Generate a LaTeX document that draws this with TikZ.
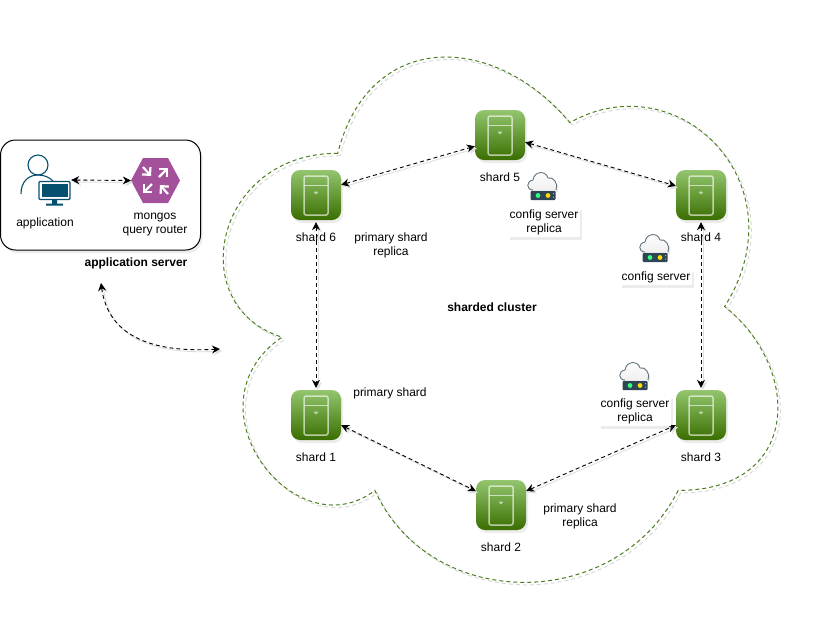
\documentclass[tikz,border=0pt]{standalone}
\usepackage{fontspec}
\setmainfont{Liberation Sans}
\usetikzlibrary{arrows.meta,shadows,calc}
\definecolor{cloudgreen}{HTML}{4D7F20}
\definecolor{shtop}{HTML}{93C66E}
\definecolor{shbot}{HTML}{3A6E00}
\definecolor{appblue}{HTML}{05506F}
\definecolor{hexpurple}{HTML}{A4519C}
\definecolor{iconline}{HTML}{62747F}
\definecolor{bardark}{HTML}{2F4454}
\tikzset{
  x=1pt,y=-1pt,
  lbl/.style={font=\fontsize{12}{14}\selectfont,align=center,inner sep=0pt,text=black},
  blbl/.style={lbl,font=\fontsize{12}{14}\selectfont\bfseries},
  softshadow/.style={drop shadow={shadow xshift=2pt,shadow yshift=-3pt,opacity=.15,fill=gray}},
  shardbox/.style={minimum width=50pt,minimum height=50pt,inner sep=0pt,rounded corners=9pt,
     top color=shtop,bottom color=shbot,softshadow},
  whitebox/.style={lbl,fill=white,inner sep=2pt,softshadow},
  glyph/.style={draw=white,draw opacity=.62,line width=1.5pt,rounded corners=2pt},
  link/.style={black,line width=.9pt,dash pattern=on 4pt off 3pt,{Stealth[length=8pt,width=8pt]}-{Stealth[length=8pt,width=8pt]},
     preaction={draw=gray!25,line width=.9pt,transform canvas={shift={(2pt,-2pt)}}}},
  cloudline/.style={line width=1pt,dash pattern=on 4pt off 3pt},
  hexarrow/.style={draw=white,line width=2.2pt,-{Straight Barb[length=5.5pt,width=11pt,line width=2.2pt]}},
}
\newcommand{\shardnode}[3]{%
  \node[shardbox] (#1) at (#2,#3) {};
  \draw[glyph] (#2-12,#3-19) rectangle (#2+12,#3+20);
  \draw[draw=white,draw opacity=.62,line width=1.2pt] (#2-12,#3-9.5) -- (#2+12,#3-9.5);
  \draw[draw=white,draw opacity=.62,line width=.8pt] (#2-1.8,#3-3) arc[start angle=180,end angle=0,radius=1.8] (#2,#3-4.5) -- (#2,#3-1.5);
  \node[lbl] (#1l) at (#2,#3+42) {shard \ShardNo};
}
\newcommand{\servericon}[2]{%
  \begin{scope}[shift={(#1,#2)}]
   \fill[gray!18,shift={(1.5,2)}] (-10,5) .. controls (-17,5) and (-17,-4) .. (-10,-5) .. controls (-9,-14) and (3,-15) .. (5,-7) .. controls (10,-9) and (16,-1) .. (13,5) -- cycle;
   \draw[iconline,line width=.9pt,top color=white,bottom color=gray!12] (-10,5) .. controls (-17,5) and (-17,-4) .. (-10,-5) .. controls (-9,-14) and (3,-15) .. (5,-7) .. controls (10,-9) and (16,-1) .. (13,5);
   \fill[bardark,rounded corners=1pt] (-12.5,6) rectangle (12.5,15);
   \fill[green!65!cyan!80!white] (-5,10.5) circle[radius=2.4];
   \fill[yellow!80!orange] (5,10.5) circle[radius=2.4];
   \fill[gray!60] (10.2,8) rectangle (11,9.2) (10.2,11.5) rectangle (11,12.7);
  \end{scope}
}
\begin{document}
\begin{tikzpicture}
\useasboundingbox (0,0) rectangle (816,625);
\fill[white] (0,0) rectangle (816,625);
% cloud: box origin (183,0), width 619, height 613
\begin{scope}[shift={(183,0)},x=6.19pt,y=-6.13pt]
 \def\cloudpath{(25,25) .. controls (5,25) and (0,50) .. (16,55) .. controls (0,66) and (18,90) .. (31,80) .. controls (40,100) and (70,100) .. (80,80) .. controls (100,80) and (100,60) .. (87.5,50) .. controls (100,30) and (80,10) .. (62.5,20) .. controls (50,5) and (30,5) .. (25,25) -- cycle}
 \draw[cloudline,draw=gray!30,transform canvas={shift={(2.5pt,-2.5pt)}}] \cloudpath;
 \draw[cloudline,draw=cloudgreen] \cloudpath;
\end{scope}
% application server
\node[draw=black,line width=1pt,fill=white,rounded corners=15pt,minimum width=200pt,minimum height=110pt,inner sep=0pt,softshadow] (appserver) at (100.5,195) {};
\node[blbl] (appserverl) at (136,263) {application server};
% application icon
\node[minimum width=53pt,minimum height=50pt,inner sep=0pt] (app) at (44.5,180) {};
\draw[appblue,line width=1.1pt] (38,165) circle[radius=10];
\draw[appblue,line width=1.1pt] (21,194) .. controls (21,182) and (28,175) .. (38,175) .. controls (44,175) and (49,177) .. (53,181);
\fill[white] (38,180.5) rectangle (71,201);
\draw[appblue,line width=1.3pt,rounded corners=1pt] (39,181.5) rectangle (70,199.5);
\fill[appblue] (41.5,184) rectangle (67.5,197);
\fill[appblue] (52,199.5) rectangle (57,204) (46,203.5) rectangle (63,205.5);
\node[lbl] (appl) at (45,223) {application};
% router icon
\node[minimum width=49pt,minimum height=45pt,inner sep=0pt] (router) at (155.5,180.5) {};
\fill[hexpurple] (131,180.5) -- (143,158) -- (168,158) -- (180,180.5) -- (168,203) -- (143,203) -- cycle;
\draw[hexarrow] (143,167) -- (151,176);
\draw[hexarrow] (159,177) -- (168,168);
\draw[hexarrow] (152,184) -- (143,193);
\draw[hexarrow] (168,194) -- (160,185);
\node[lbl] (routerl) at (155,225) {mongos\\query router};
% shards
\def\ShardNo{5}\shardnode{s5}{500}{135}
\def\ShardNo{6}\shardnode{s6}{316}{195}
\def\ShardNo{4}\shardnode{s4}{701}{195}
\def\ShardNo{3}\shardnode{s3}{701}{415}
\def\ShardNo{1}\shardnode{s1}{316}{415}
\def\ShardNo{2}\shardnode{s2}{501}{505}
% connectors
\coordinate (fa) at (101,283);
\coordinate (fb) at (220,349);
\draw[link] (app.east) -- (router.west);
\draw[link] (s6.22) -- (s5.204);
\draw[link] (s5.-16) -- (s4.160);
\draw[link] ([yshift=-2pt]s6.south) -- ([yshift=2pt]s1.north);
\draw[link] ([yshift=-2pt]s4.south) -- ([yshift=2pt]s3.north);
\draw[link] (s1.-22) -- (s2.151);
\draw[link] (s2.29) -- (s3.202);
\draw[link] (fa) .. controls (108,335) and (150,353) .. (fb);
% labels
\node[lbl] (pr1) at (391,245.5) {primary shard\\replica};
\node[lbl] (ps) at (390,393) {primary shard};
\node[lbl] (pr2) at (580,516) {primary shard\\replica};
\node[blbl] (sc) at (492,307) {sharded cluster};
\node[whitebox] (cfg1) at (544,222) {config server\\replica};
\node[whitebox] (cfg2) at (656,277) {config server};
\node[whitebox] (cfg3) at (635,411) {config server\\replica};
\servericon{543}{185}
\servericon{655}{247}
\servericon{635}{375}
\end{tikzpicture}
\end{document}
